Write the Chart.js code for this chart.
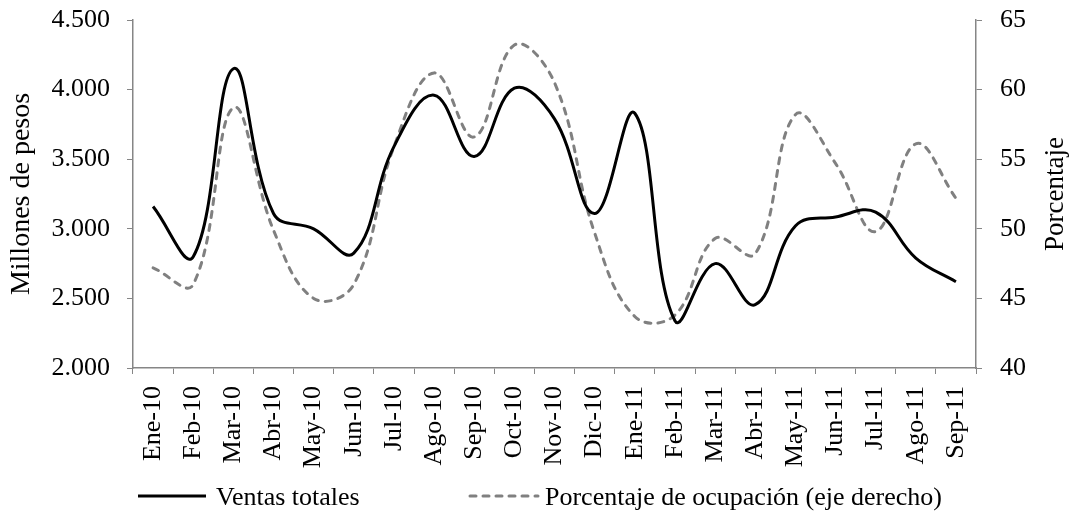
<!DOCTYPE html>
<html>
<head>
<meta charset="utf-8">
<script src="https://cdn.jsdelivr.net/npm/chart.js@4/dist/chart.umd.min.js"></script>
<style>
  html, body { margin: 0; padding: 0; background: #ffffff; }
  #wrap { position: relative; width: 1069px; height: 515px; }
  #c { position: absolute; left: 0; top: 0; }
  .leg { position: absolute; top: 482px; height: 30px; line-height: 30px;
         font-family: "Liberation Serif", "Times New Roman", serif; font-size: 26px; color: #000; white-space: nowrap; }
  .legsym { position: absolute; top: 482px; }
</style>
</head>
<body>
<div id="wrap">
  <canvas id="c" width="1069" height="515"></canvas>
  <svg class="legsym" style="left:137px" width="70" height="30"><line x1="1" y1="14" x2="69" y2="14" stroke="#000000" stroke-width="3"/></svg>
  <div class="leg" style="left:216px">Ventas totales</div>
  <svg class="legsym" style="left:468px" width="72" height="30"><line x1="2" y1="14" x2="70" y2="14" stroke="#808080" stroke-width="3" stroke-dasharray="6 7" stroke-linecap="round"/></svg>
  <div class="leg" style="left:545px">Porcentaje de ocupación (eje derecho)</div>
</div>
<script>
const categories = ["Ene-10","Feb-10","Mar-10","Abr-10","May-10","Jun-10","Jul-10","Ago-10","Sep-10","Oct-10","Nov-10","Dic-10",
                    "Ene-11","Feb-11","Mar-11","Abr-11","May-11","Jun-11","Jul-11","Ago-11","Sep-11"];
const ventasTotales = [3160, 2800, 4150, 3110, 3000, 2825, 3590, 3960, 3520, 4010, 3790, 3110,
                       3830, 2340, 2750, 2455, 3020, 3085, 3120, 2790, 2620];
const porcentajeOcupacion = [47.2, 46.0, 58.7, 49.9, 45.0, 46.0, 55.9, 61.2, 56.6, 63.2, 60.5, 49.7,
                             43.7, 43.8, 49.3, 48.2, 58.2, 54.7, 49.8, 56.1, 52.2];
const leftAxisRange = [2000, 4500, 500];
const rightAxisRange = [40, 65, 5];
const seriesNames = ["Ventas totales", "Porcentaje de ocupación (eje derecho)"];
const leftTitle = "Millones de pesos";
const rightTitle = "Porcentaje";

const FONT = "'Liberation Serif', 'Times New Roman', serif";
const AXIS = "#868686";

function fmtThousands(v) {
  return String(v).replace(/\B(?=(\d{3})+(?!\d))/g, ".");
}

const rightTitlePlugin = {
  id: "rightTitle",
  afterDraw(chart) {
    const ctx = chart.ctx;
    const a = chart.chartArea;
    ctx.save();
    ctx.translate(1056, (a.top + a.bottom) / 2);
    ctx.rotate(-Math.PI / 2);
    ctx.fillStyle = "#000";
    ctx.font = "27px " + FONT;
    ctx.textAlign = "center";
    ctx.textBaseline = "middle";
    ctx.fillText(rightTitle, 0, 0);
    ctx.restore();
  }
};

function fixVertical(width) {
  return function (scale) {
    scale.width = width;
    scale.paddingTop = 0;
    scale.paddingBottom = 0;
  };
}

new Chart(document.getElementById("c"), {
  type: "line",
  data: {
    labels: categories,
    datasets: [
      {
        label: seriesNames[0],
        data: ventasTotales,
        yAxisID: "y",
        borderColor: "#000000",
        borderWidth: 3,
        pointRadius: 0,
        tension: 0.4,
        fill: false
      },
      {
        label: seriesNames[1],
        data: porcentajeOcupacion,
        yAxisID: "y1",
        borderColor: "#808080",
        borderWidth: 3,
        borderDash: [6, 7],
        borderCapStyle: "round",
        pointRadius: 0,
        tension: 0.4,
        fill: false
      }
    ]
  },
  options: {
    responsive: false,
    animation: false,
    devicePixelRatio: 1,
    layout: { padding: { top: 20, left: 0, right: 0, bottom: 0 } },
    plugins: {
      legend: { display: false },
      tooltip: { enabled: false }
    },
    scales: {
      x: {
        type: "category",
        offset: true,
        afterFit(scale) { scale.height = 147; scale.paddingLeft = 0; scale.paddingRight = 0; },
        grid: { display: true, drawOnChartArea: false, offset: true, tickLength: 6, color: AXIS, lineWidth: 1 },
        border: { display: true, color: AXIS, width: 1.5 },
        ticks: { autoSkip: false, minRotation: 90, maxRotation: 90, padding: 12, color: "#000",
                 font: { family: FONT, size: 26 } }
      },
      y: {
        position: "left",
        min: leftAxisRange[0], max: leftAxisRange[1],
        afterFit: fixVertical(133),
        grid: { display: true, drawOnChartArea: false, tickLength: 6, color: AXIS, lineWidth: 1 },
        border: { display: true, color: AXIS, width: 1.5 },
        ticks: { stepSize: leftAxisRange[2], padding: 17, color: "#000",
                 font: { family: FONT, size: 26 },
                 callback: (v) => fmtThousands(v) },
        title: { display: true, text: leftTitle, color: "#000", padding: { top: 8, bottom: 0 },
                 font: { family: FONT, size: 28, lineHeight: 1 } }
      },
      y1: {
        position: "right",
        min: rightAxisRange[0], max: rightAxisRange[1],
        afterFit: fixVertical(93),
        grid: { display: true, drawOnChartArea: false, tickLength: 6, color: AXIS, lineWidth: 1 },
        border: { display: true, color: AXIS, width: 1.5 },
        ticks: { stepSize: rightAxisRange[2], padding: 18, color: "#000",
                 font: { family: FONT, size: 26 } }
      }
    }
  },
  plugins: [rightTitlePlugin]
});
</script>
</body>
</html>
